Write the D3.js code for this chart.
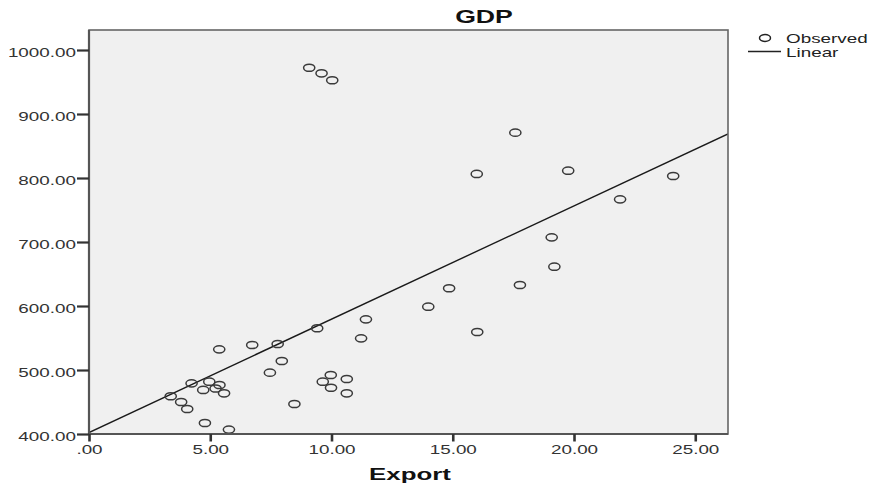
<!DOCTYPE html>
<html>
<head>
<meta charset="utf-8">
<script src="https://cdn.jsdelivr.net/npm/d3@7"></script>
<style>
  html, body { margin: 0; padding: 0; background: #ffffff; }
  svg { display: block; }
  text { font-family: "Liberation Sans", Arial, sans-serif; }
</style>
</head>
<body>
<svg id="chart" width="869" height="484"></svg>
<script>
// ---- Data ----
const exportValues = [9.08, 9.59, 10.03, 17.58, 15.99, 19.76, 24.09, 21.90, 19.08, 19.19,
  17.77, 14.85, 13.99, 11.42, 16.01, 9.41, 11.22, 9.97, 9.64, 10.63,
  9.98, 10.63, 8.47, 5.37, 6.73, 7.78, 7.95, 7.46, 4.23, 4.96,
  4.71, 5.38, 5.22, 5.57, 3.37, 3.80, 4.05, 4.78, 5.77];
const gdpValues = [972.3, 963.6, 952.7, 870.8, 806.3, 811.4, 803.1, 766.7, 707.3, 661.4,
  632.8, 627.7, 598.9, 579.2, 559.4, 565.2, 549.5, 492.2, 481.7, 485.9,
  472.3, 463.6, 446.9, 532.3, 539.1, 540.6, 514.1, 495.8, 479.2, 481.7,
  468.8, 476.6, 471.1, 463.6, 459.0, 450.0, 439.1, 417.2, 406.9];
const xTicks = [0, 5, 10, 15, 20, 25];
const yTicks = [400, 500, 600, 700, 800, 900, 1000];
const xDomain = [0, 26.35];
const yDomain = [400, 1031.25];
const titleText = "GDP";
const xLabel = "Export";
const legendLabels = ["Observed", "Linear"];

// ---- Layout ----
const SX = 1.45; // horizontal stretch of the reference
const plot = { left: 89, right: 728, top: 30, bottom: 434 };

const svg = d3.select("#chart");
const x = d3.scaleLinear().domain(xDomain).range([plot.left, plot.right]);
const y = d3.scaleLinear().domain(yDomain).range([plot.bottom, plot.top]);

const fmt = v => d3.format(".2f")(v).replace(/^0\./, ".");

// plot background
svg.append("rect")
  .attr("x", plot.left).attr("y", plot.top)
  .attr("width", plot.right - plot.left).attr("height", plot.bottom - plot.top)
  .attr("fill", "#f0f0f0");

// regression line (least squares from data)
const mx = d3.mean(exportValues), my = d3.mean(gdpValues);
let sxy = 0, sxx = 0;
exportValues.forEach((v, i) => { sxy += (v - mx) * (gdpValues[i] - my); sxx += (v - mx) * (v - mx); });
const slope = sxy / sxx, intercept = my - slope * mx;

svg.append("defs").append("clipPath").attr("id", "clip")
  .append("rect").attr("x", plot.left).attr("y", plot.top)
  .attr("width", plot.right - plot.left).attr("height", plot.bottom - plot.top);

const lineData = [xDomain[0], xDomain[1]].map(v => [v, intercept + slope * v]);
svg.append("path")
  .attr("clip-path", "url(#clip)")
  .attr("d", d3.line().x(d => x(d[0])).y(d => y(d[1]))(lineData))
  .attr("fill", "none").attr("stroke", "#1a1a1a").attr("stroke-width", 1.4);

// points
const pts = exportValues.map((v, i) => ({ x: v, y: gdpValues[i] }));
svg.append("g").selectAll("ellipse").data(pts).join("ellipse")
  .attr("cx", d => x(d.x)).attr("cy", d => y(d.y))
  .attr("rx", 5.6).attr("ry", 3.6)
  .attr("fill", "none").attr("stroke", "#3a3a3a").attr("stroke-width", 1.5);

// frame
svg.append("rect")
  .attr("x", plot.left).attr("y", plot.top)
  .attr("width", plot.right - plot.left).attr("height", plot.bottom - plot.top)
  .attr("fill", "none").attr("stroke", "#666").attr("stroke-width", 1.6);
svg.append("line").attr("x1", plot.left).attr("x2", plot.left)
  .attr("y1", plot.top).attr("y2", plot.bottom + 1)
  .attr("stroke", "#555").attr("stroke-width", 2.2);
svg.append("line").attr("x1", plot.left).attr("x2", plot.right)
  .attr("y1", plot.bottom).attr("y2", plot.bottom)
  .attr("stroke", "#555").attr("stroke-width", 2);

// y axis
const yAxis = svg.append("g").attr("transform", `translate(${plot.left},0)`)
  .call(d3.axisLeft(y).tickValues(yTicks).tickSize(12).tickFormat(fmt));
yAxis.select(".domain").remove();
yAxis.selectAll(".tick line").attr("stroke", "#333").attr("stroke-width", 2.2);
yAxis.selectAll(".tick text")
  .attr("x", 0).attr("dy", null).attr("y", 0)
  .attr("transform", `translate(-13,6.5) scale(${SX},1)`)
  .attr("text-anchor", "end")
  .attr("font-size", 13).attr("fill", "#333")
  .attr("font-family", "Liberation Sans, Arial, sans-serif");

// x axis
const xAxis = svg.append("g").attr("transform", `translate(0,${plot.bottom})`)
  .call(d3.axisBottom(x).tickValues(xTicks).tickSize(7.5).tickFormat(fmt));
xAxis.select(".domain").remove();
xAxis.selectAll(".tick line").attr("stroke", "#333").attr("stroke-width", 2.6);
xAxis.selectAll(".tick text")
  .attr("x", 0).attr("dy", null).attr("y", 0)
  .attr("transform", `translate(0,20) scale(${SX},1)`)
  .attr("text-anchor", "middle")
  .attr("font-size", 13).attr("fill", "#333")
  .attr("font-family", "Liberation Sans, Arial, sans-serif");

// title
svg.append("text")
  .attr("transform", `translate(484,23) scale(1.48,1)`)
  .attr("text-anchor", "middle")
  .attr("font-size", 18).attr("font-weight", "bold").attr("fill", "#111")
  .text(titleText);

// x label
svg.append("text")
  .attr("transform", `translate(410,480) scale(1.52,1)`)
  .attr("text-anchor", "middle")
  .attr("font-size", 17).attr("font-weight", "bold").attr("fill", "#111")
  .text(xLabel);

// legend
const lg = svg.append("g");
lg.append("ellipse").attr("cx", 765).attr("cy", 38).attr("rx", 5.5).attr("ry", 3.4)
  .attr("fill", "none").attr("stroke", "#222").attr("stroke-width", 1.5);
lg.append("text").attr("transform", `translate(786,42.5) scale(${SX},1)`)
  .attr("font-size", 13).attr("fill", "#222").text(legendLabels[0]);
lg.append("line").attr("x1", 748).attr("x2", 781).attr("y1", 51.5).attr("y2", 51.5)
  .attr("stroke", "#222").attr("stroke-width", 1.3);
lg.append("text").attr("transform", `translate(786,57) scale(${SX},1)`)
  .attr("font-size", 13).attr("fill", "#222").text(legendLabels[1]);
</script>
</body>
</html>
